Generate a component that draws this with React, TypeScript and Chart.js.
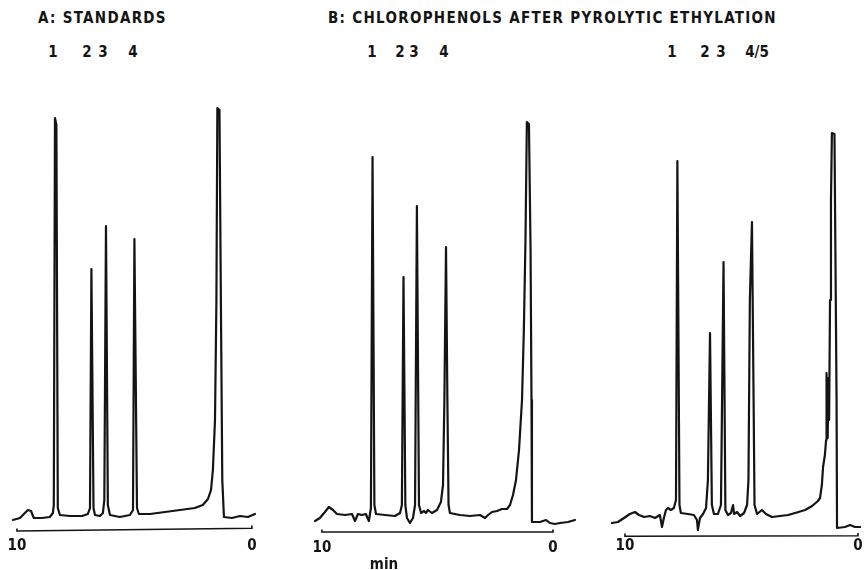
import React, { useEffect, useRef } from "react";
import { Chart, registerables } from "chart.js";

Chart.register(...registerables);

// ---------- DATA (retention time in min, detector signal in arbitrary units) ----------
const titleA = "A: STANDARDS";
const titleB = "B: CHLOROPHENOLS AFTER PYROLYTIC ETHYLATION";
const axisTickValues = [10, 0];
const axisUnit = "min";

const peakLabelsA = ["1", "2", "3", "4"];
const peakLabelsB = ["1", "2", "3", "4"];
const peakLabelsC = ["1", "2", "3", "4/5"];

const timeA = [10.17, 9.87, 9.66, 9.53, 9.4, 9.28, 8.94, 8.6, 8.47, 8.43, 8.38, 8.32, 8.26, 8.17, 7.74, 7.23, 6.98, 6.89, 6.83, 6.74, 6.68, 6.47, 6.34, 6.28, 6.21, 6.13, 6.04, 5.62, 5.19, 5.06, 5.0, 4.89, 4.81, 4.34, 3.7, 3.06, 2.43, 2.09, 1.87, 1.74, 1.66, 1.57, 1.51, 1.47, 1.38, 1.32, 1.26, 1.19, 0.85, 0.51, 0.17, -0.13];
const signalA = [-1.25, -0.75, 0.5, 1.25, 1.0, -0.75, -0.75, -0.5, 0.5, 2.5, 99.25, 97.5, 1.75, 0, -0.25, -0.25, 0.25, 1.75, 61.5, 1.75, 0, -0.25, 0.5, 3.75, 72.25, 2.5, 0, -0.5, 0, 1.25, 69, 1.75, 0.25, 0.25, 0.75, 1.25, 1.75, 2.5, 4, 6.25, 11.25, 23.75, 53.75, 101.75, 101.25, 53.75, 8.75, -0.5, -0.75, -0.25, -0.5, 0.25];

const timeB = [10.3, 10.09, 9.87, 9.7, 9.52, 9.35, 9.0, 8.7, 8.57, 8.44, 8.27, 8.1, 7.97, 7.88, 7.81, 7.73, 7.66, 7.27, 6.84, 6.62, 6.54, 6.47, 6.39, 6.32, 6.19, 6.06, 5.97, 5.89, 5.8, 5.71, 5.58, 5.5, 5.41, 5.24, 5.02, 4.85, 4.76, 4.7, 4.63, 4.57, 4.52, 4.46, 4.03, 3.59, 3.16, 2.94, 2.81, 2.64, 2.42, 2.21, 1.99, 1.86, 1.73, 1.6, 1.47, 1.34, 1.26, 1.19, 1.13, 1.04, 0.97, 0.93, 0.91, 0.56, 0.3, 0.13, -0.09, -0.3, -0.65, -0.95];
const signalB = [-1.5, -0.75, 0.75, 2, 1.25, 0.25, 0, 0.25, -1.5, 0.25, 0, 0.25, -1.5, 1.75, 89.5, 2.5, 0.25, 0, -0.25, 0.5, 2.5, 59.5, 2.5, -0.75, -2, -0.75, 2.5, 77.25, 2.5, 0.5, 1, 0.5, 1.25, 0.5, 1.25, 3.25, 7.5, 28.75, 67, 28.75, 2.5, 0.5, 0, -0.25, 0, -0.75, 0, 0.75, 1, 1.5, 1.5, 2.5, 5, 8.75, 16.25, 28.75, 46.25, 68.75, 98.25, 97.75, 66.25, 28.75, -1.75, -1.75, -1.25, -2, -2.25, -2, -1.75, -1.25];

const timeC = [10.56, 10.3, 10.04, 9.79, 9.57, 9.4, 9.18, 8.93, 8.71, 8.5, 8.41, 8.33, 8.24, 8.15, 8.03, 7.9, 7.81, 7.75, 7.66, 7.6, 7.3, 7.04, 6.91, 6.87, 6.78, 6.65, 6.52, 6.44, 6.35, 6.27, 6.18, 6.01, 5.88, 5.77, 5.69, 5.58, 5.45, 5.36, 5.32, 5.19, 5.06, 4.89, 4.76, 4.7, 4.64, 4.55, 4.48, 4.44, 4.33, 4.12, 3.95, 3.69, 3.35, 3.0, 2.7, 2.27, 1.97, 1.72, 1.63, 1.55, 1.5, 1.42, 1.37, 1.35, 1.33, 1.31, 1.29, 1.27, 1.24, 1.2, 1.16, 1.12, 1.01, 0.97, 0.92, 0.9, 0.56, 0.34, 0.13, -0.09];
const signalC = [-2, -1.75, -0.75, 0.25, 0.75, 0, -0.5, -0.25, -0.75, 0, -3, -0.75, 1.25, 1.75, 1.25, 1.75, 3.75, 88.5, 2.5, 0.5, 0.25, 0, -1.25, -3.75, -0.75, 0.25, 1.75, 8.75, 45.5, 2.5, 0.25, 0.25, 2.5, 63.25, 1.25, 0, 0.5, 2.5, 0.25, 0.75, -0.25, 0.5, 2.5, 8.75, 53.75, 73.25, 28.75, 2.5, 0.25, 1.25, 0.25, -0.5, -0.25, 0, 0.5, 1.25, 2.25, 3.5, 4.25, 7.5, 12, 15, 18.75, 35.5, 19.25, 34.25, 20, 32.5, 23.75, 53.75, 78.75, 95.5, 95.25, 66.25, 28.75, -3.25, -3, -2.5, -3, -3];

// time-scale bars drawn under each trace (10 min -> 0 min)
const barTime = [10, 10, 0, 0];
const barSignalA = [-3.4, -4, -3.3, -2.6];
const barSignalB = [-3.6, -4.25, -4.25, -3.6];
const barSignalC = [-4.6, -5.3, -5.2, -4.5];

// ---------- LAYOUT ----------
const FONT = "'DejaVu Sans Condensed', 'DejaVu Sans', sans-serif";
const INK = "#141414";

type PanelSpec = {
  left: number;
  width: number;
  top: number;
  height: number;
  tMin: number;
  tMax: number;
  sMin: number;
  sMax: number;
  times: number[];
  signal: number[];
  barSignal: number[];
};

const panels: PanelSpec[] = [
  { left: 0, width: 262, top: 95, height: 460, tMin: -0.43, tMax: 10.72, sMin: -5.5, sMax: 105, times: timeA, signal: signalA, barSignal: barSignalA },
  { left: 300, width: 280, top: 95, height: 462, tMin: -1.17, tMax: 10.95, sMin: -6, sMax: 105, times: timeB, signal: signalB, barSignal: barSignalB },
  { left: 600, width: 265, top: 95, height: 460, tMin: -0.3, tMax: 11.07, sMin: -5.5, sMax: 105, times: timeC, signal: signalC, barSignal: barSignalC },
];

function Panel({ spec }: { spec: PanelSpec }) {
  const ref = useRef<HTMLCanvasElement | null>(null);
  useEffect(() => {
    if (!ref.current) return;
    const trace = spec.times.map((t, i) => ({ x: t, y: spec.signal[i] }));
    const bar = barTime.map((t, i) => ({ x: t, y: spec.barSignal[i] }));
    const chart = new Chart(ref.current, {
      type: "scatter",
      data: {
        datasets: [
          {
            data: trace,
            showLine: true,
            borderColor: INK,
            borderWidth: 2.2,
            borderJoinStyle: "round",
            borderCapStyle: "round",
            pointRadius: 0,
            tension: 0,
            fill: false,
          },
          {
            data: bar,
            showLine: true,
            borderColor: INK,
            borderWidth: 1.6,
            pointRadius: 0,
            tension: 0,
            fill: false,
          },
        ],
      },
      options: {
        animation: false,
        responsive: false,
        maintainAspectRatio: false,
        events: [],
        layout: { padding: 0 },
        plugins: { legend: { display: false }, tooltip: { enabled: false }, title: { display: false } },
        scales: {
          x: {
            type: "linear",
            reverse: true,
            min: spec.tMin,
            max: spec.tMax,
            grid: { display: false, drawTicks: false },
            border: { display: false },
            afterBuildTicks: (scale: any) => {
              scale.ticks = axisTickValues.map((v) => ({ value: v }));
            },
            ticks: {
              color: INK,
              padding: 0,
              autoSkip: false,
              maxRotation: 0,
              font: { family: FONT, size: 15, weight: "bold" },
              callback: (v: any) => String(v),
            },
          },
          y: { display: false, min: spec.sMin, max: spec.sMax },
        },
      },
    } as any);
    return () => chart.destroy();
  }, [spec]);
  return (
    <canvas
      ref={ref}
      width={spec.width}
      height={spec.height}
      style={{ position: "absolute", left: spec.left, top: spec.top, width: spec.width, height: spec.height }}
    />
  );
}

const textStyle: React.CSSProperties = {
  position: "absolute",
  fontFamily: FONT,
  fontSize: 15,
  fontWeight: "bold",
  color: INK,
  lineHeight: "18px",
  whiteSpace: "nowrap",
};

function Label({ x, y, text, center = true, spacing = 0 }: { x: number; y: number; text: string; center?: boolean; spacing?: number }) {
  return (
    <div
      style={{
        ...textStyle,
        left: x,
        top: y - 9,
        letterSpacing: spacing,
        transform: center ? "translateX(-50%)" : undefined,
      }}
    >
      {text}
    </div>
  );
}

const peakLabelX = [
  [53, 87, 103, 133],
  [372, 400, 414, 444],
  [672, 705, 721, 757],
];
const peakLabelSets = [peakLabelsA, peakLabelsB, peakLabelsC];

export default function App() {
  return (
    <div style={{ position: "absolute", left: 0, top: 0, width: 865, height: 570, background: "#fff", overflow: "hidden" }}>
      <Label x={38} y={18} text={titleA} center={false} spacing={1.3} />
      <Label x={328} y={18} text={titleB} center={false} spacing={1.3} />
      {peakLabelSets.map((set, p) =>
        set.map((t, i) => <Label key={p + "-" + i} x={peakLabelX[p][i]} y={52} text={t} />)
      )}
      {panels.map((p, i) => (
        <Panel key={i} spec={p} />
      ))}
      <Label x={384} y={564} text={axisUnit} />
    </div>
  );
}
